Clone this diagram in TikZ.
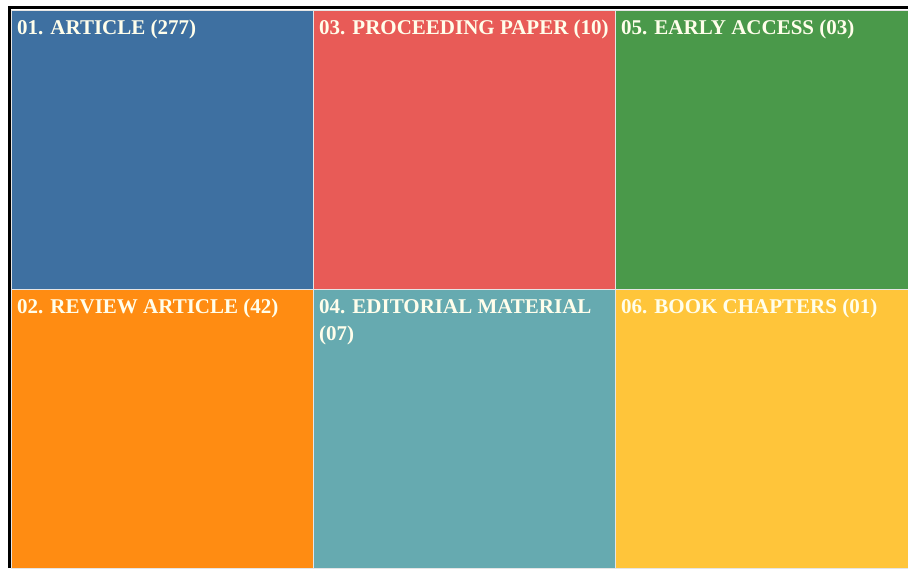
\documentclass[tikz,border=0pt]{standalone}
\usepackage{fontspec}
\setmainfont{Liberation Serif}
\usetikzlibrary{positioning}
\definecolor{artblue}{HTML}{3E70A1}
\definecolor{procred}{HTML}{E85B57}
\definecolor{earlygreen}{HTML}{4A994A}
\definecolor{revorange}{HTML}{FF8C12}
\definecolor{editteal}{HTML}{66AAB0}
\definecolor{bookyellow}{HTML}{FFC53A}
\tikzset{cell/.style={draw=white!80!gray, line width=.6pt}}
\tikzset{lbl/.style={anchor=base west, inner sep=0pt, text=white!92!yellow,
    font=\bfseries\fontsize{21}{27}\selectfont, align=left}}

\begin{document}
\begin{tikzpicture}[x=1pt,y=-1pt]
  \useasboundingbox (0,0) rectangle (908,568);
  \fill[white] (0,0) rectangle (908,568);

  \filldraw[cell,fill=artblue] (11,10) rectangle (313,289);
  \filldraw[cell,fill=procred] (313,10) rectangle (615,289);
  \filldraw[cell,fill=earlygreen] (615,10) rectangle (908,289);
  \filldraw[cell,fill=revorange] (11,289) rectangle (313,568);
  \filldraw[cell,fill=editteal] (313,289) rectangle (615,568);
  \filldraw[cell,fill=bookyellow] (615,289) rectangle (908,568);

  \draw[line width=3pt] (9.5,568) -- (9.5,7.5) -- (908,7.5);

  \node[lbl] (article) at (17,34) {01. ARTICLE (277)};
  \node[lbl] (proceeding) at (319,34) {03. PROCEEDING PAPER (10)};
  \node[lbl] (early) at (621,34) {05. EARLY ACCESS (03)};
  \node[lbl] (review) at (17,313) {02. REVIEW ARTICLE (42)};
  % base of a two-line node is the last line
  \node[lbl] (editorial) at (319,340) {04. EDITORIAL MATERIAL\\(07)};
  \node[lbl] (book) at (621,313) {06. BOOK CHAPTERS (01)};
\end{tikzpicture}
\end{document}
